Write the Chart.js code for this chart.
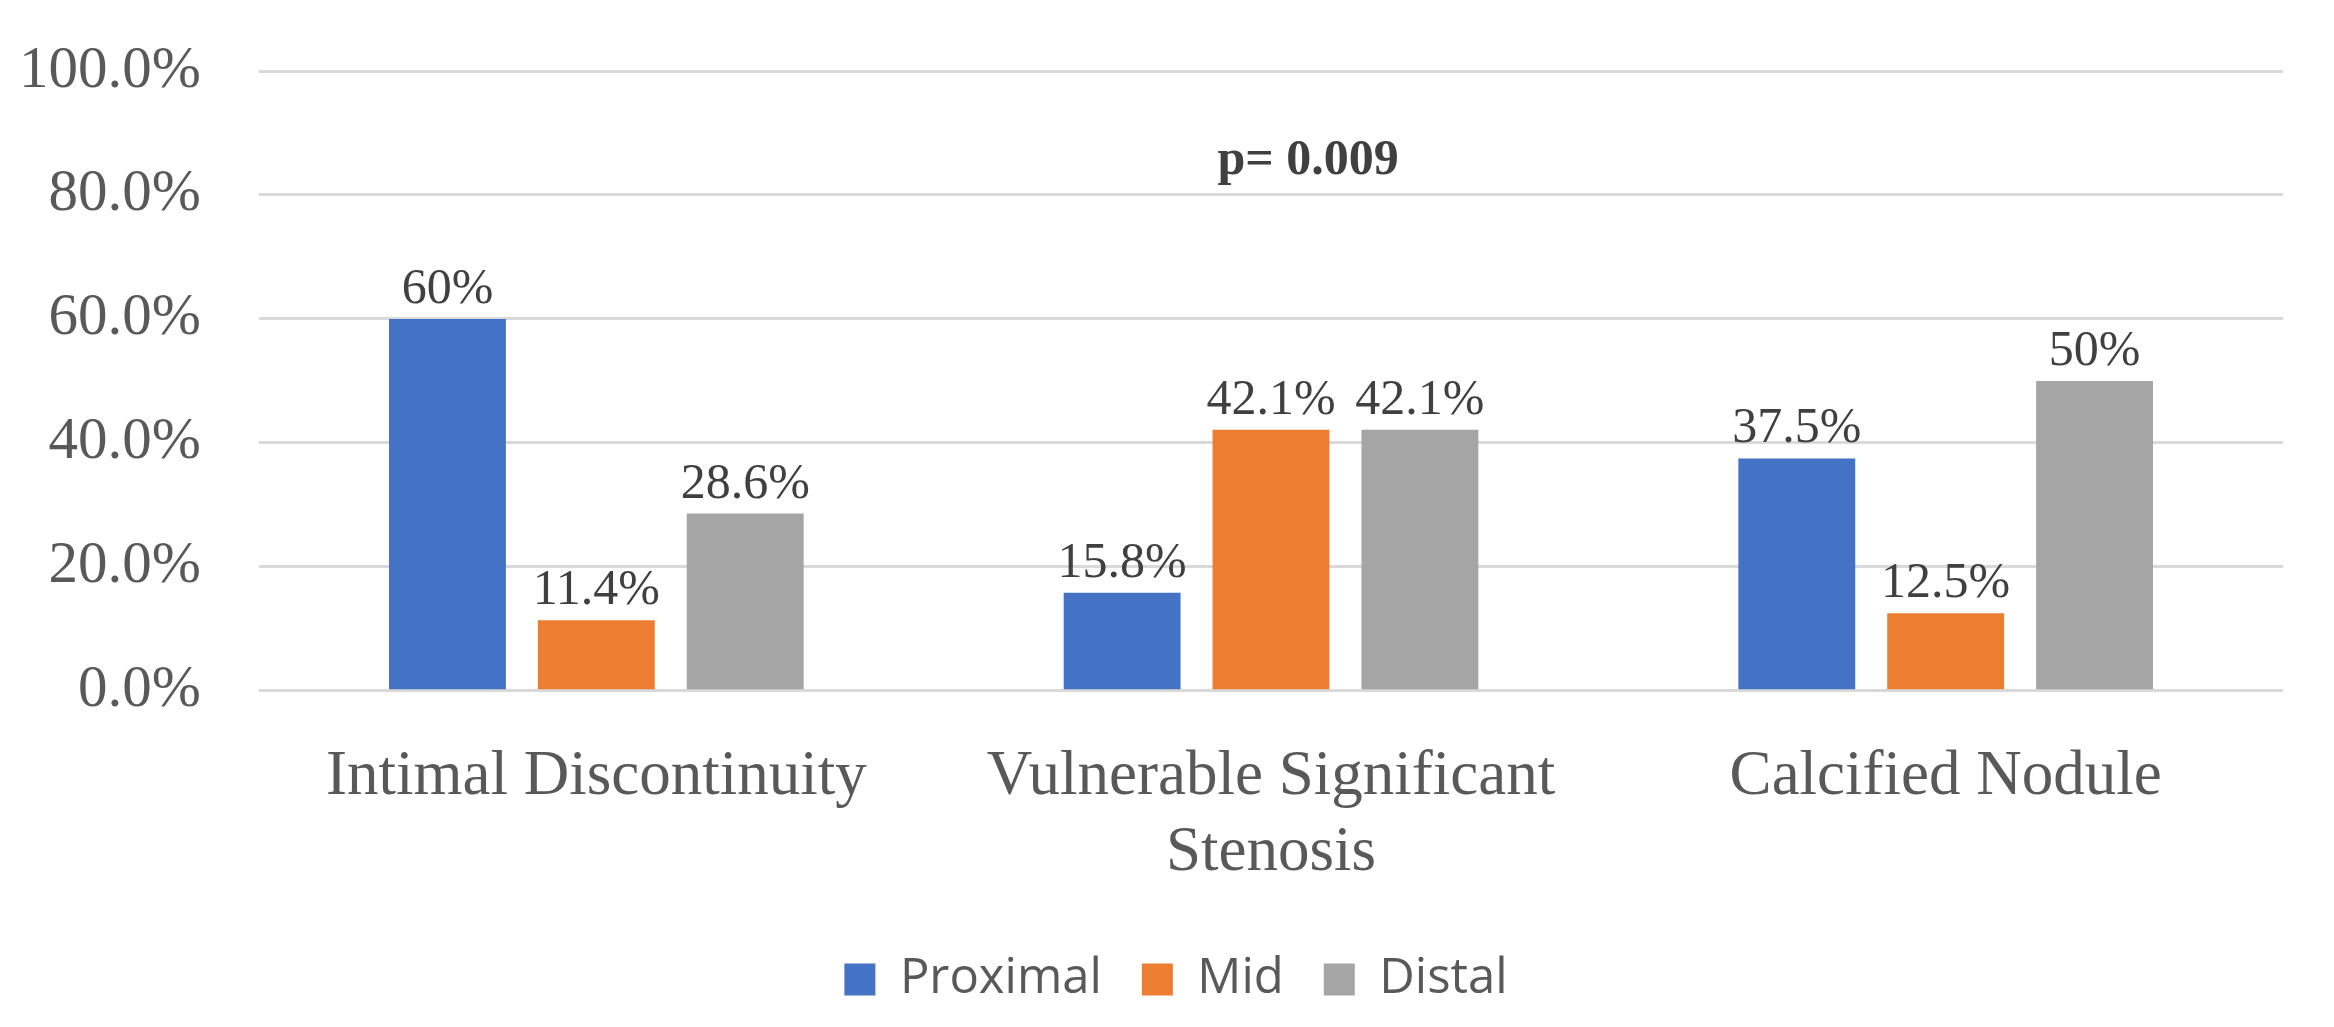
<!DOCTYPE html>
<html>
<head>
<meta charset="utf-8">
<script src="https://cdn.jsdelivr.net/npm/chart.js@4/dist/chart.umd.min.js"></script>
<style>
html,body{margin:0;padding:0;background:#fff;}
#wrap{width:2334px;height:1027px;}
</style>
</head>
<body>
<div id="wrap"><canvas id="c" width="2334" height="1027"></canvas></div>
<script>
// ---- data ----
const categories = ['Intimal Discontinuity', ['Vulnerable Significant', 'Stenosis'], 'Calcified Nodule'];
const seriesNames = ['Proximal', 'Mid', 'Distal'];
const proximal = [60, 15.8, 37.5];
const mid = [11.4, 42.1, 12.5];
const distal = [28.6, 42.1, 50];
const proximalLabels = ['60%', '15.8%', '37.5%'];
const midLabels = ['11.4%', '42.1%', '12.5%'];
const distalLabels = ['28.6%', '42.1%', '50%'];
const yTicks = [0, 20, 40, 60, 80, 100];
const annotationText = 'p= 0.009';
const annotationPos = {cat: 1.055, value: 85.5};

const colors = ['#4472C4', '#ED7D31', '#A5A5A5'];
const allLabels = [proximalLabels, midLabels, distalLabels];

const valueLabelPlugin = {
  id: 'valueLabels',
  afterDatasetsDraw(chart) {
    const ctx = chart.ctx;
    ctx.save();
    ctx.font = '50px "Liberation Serif"';
    ctx.fillStyle = '#404040';
    ctx.textAlign = 'center';
    ctx.textBaseline = 'alphabetic';
    chart.data.datasets.forEach((ds, di) => {
      const meta = chart.getDatasetMeta(di);
      meta.data.forEach((el, i) => {
        ctx.fillText(allLabels[di][i], el.x, el.y - 16);
      });
    });
    // annotation
    const xs = chart.scales.x, ys = chart.scales.y;
    const step = xs.getPixelForValue(2) - xs.getPixelForValue(1);
    const ax = xs.getPixelForValue(1) + step * (annotationPos.cat - 1);
    const ay = ys.getPixelForValue(annotationPos.value);
    ctx.font = 'bold 50px "Liberation Serif"';
    ctx.textBaseline = 'middle';
    ctx.fillText(annotationText, ax, ay);
    ctx.restore();
  }
};

new Chart(document.getElementById('c'), {
  type: 'bar',
  data: {
    labels: categories,
    datasets: [
      {label: seriesNames[0], data: proximal, backgroundColor: colors[0]},
      {label: seriesNames[1], data: mid, backgroundColor: colors[1]},
      {label: seriesNames[2], data: distal, backgroundColor: colors[2]}
    ]
  },
  options: {
    responsive: false,
    devicePixelRatio: 1,
    animation: false,
    categoryPercentage: 0.662,
    barPercentage: 0.785,
    layout: {padding: {top: 71, right: 0, left: 18, bottom: 13}},
    plugins: {
      tooltip: {enabled: false},
      legend: {
        position: 'bottom',
        labels: {
          font: {family: '"Open Sans"', size: 49},
          color: '#595959',
          boxWidth: 31,
          boxHeight: 32,
          padding: 40
        }
      }
    },
    scales: {
      x: {
        grid: {display: false, drawTicks: false},
        border: {display: false},
        afterFit(axis) { axis.height = axis.height - 25; },
        ticks: {
          font: {family: '"Liberation Serif"', size: 63},
          color: '#595959',
          padding: 49,
          maxRotation: 0,
          autoSkip: false
        }
      },
      y: {
        min: 0, max: 100,
        afterBuildTicks(axis) { axis.ticks = yTicks.map(v => ({value: v})); },
        afterFit(axis) { axis.width = 241; },
        grid: {color: '#D9D9D9', lineWidth: 3, drawTicks: true, tickLength: 58, tickColor: 'rgba(0,0,0,0)'},
        border: {display: false},
        ticks: {
          font: {family: '"Liberation Serif"', size: 59},
          color: '#595959',
          padding: 0,
          callback: v => v.toFixed(1) + '%'
        }
      },
      yRight: {
        position: 'right',
        display: true,
        min: 0, max: 100,
        afterFit(axis) { axis.width = 51; },
        grid: {display: false, drawTicks: false},
        border: {display: false},
        ticks: {display: false}
      }
    }
  },
  plugins: [valueLabelPlugin]
});
</script>
</body>
</html>
